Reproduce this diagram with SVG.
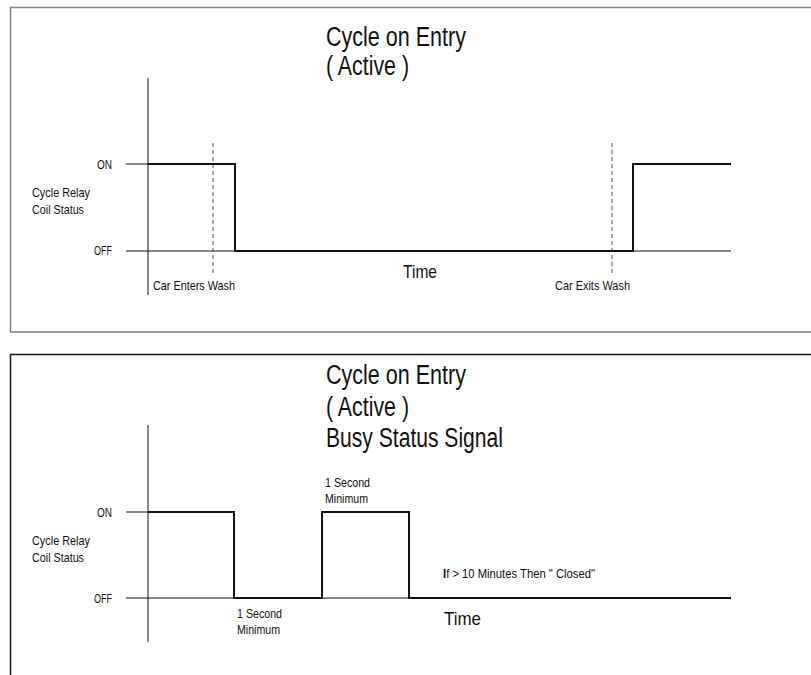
<svg xmlns="http://www.w3.org/2000/svg" width="811" height="675" viewBox="0 0 811 675">
<style>
text{font-family:"Liberation Sans",Arial,sans-serif;fill:#111}
.title{font-size:27px}
.lbl{font-size:13.5px}
.time{font-size:19px}
.axis{stroke:#111;stroke-width:1;fill:none}
.sig{stroke:#111;stroke-width:2;fill:none}
.dash{stroke:#555;stroke-width:1;stroke-dasharray:4 3;fill:none}
</style>
<rect width="811" height="675" fill="#fff"/>
<g id="panel1">
<path d="M10.5,332 V7.5 H812 M10,332 H812" fill="none" stroke="#808080" stroke-width="1.5"/>
<g id="title1">
<text class="title" x="326" y="46" textLength="140" lengthAdjust="spacingAndGlyphs">Cycle on Entry</text>
<text class="title" x="326" y="75" textLength="83" lengthAdjust="spacingAndGlyphs">( Active )</text>
</g>
<g id="labels1">
<text class="lbl" x="97" y="169" textLength="15" lengthAdjust="spacingAndGlyphs">ON</text>
<text class="lbl" x="94" y="255" textLength="18" lengthAdjust="spacingAndGlyphs">OFF</text>
<text class="lbl" x="32" y="197" textLength="58" lengthAdjust="spacingAndGlyphs">Cycle Relay</text>
<text class="lbl" x="32" y="214" textLength="52" lengthAdjust="spacingAndGlyphs">Coil Status</text>
<text class="lbl" x="153" y="290" textLength="82" lengthAdjust="spacingAndGlyphs">Car Enters Wash</text>
<text class="lbl" x="555" y="290" textLength="75" lengthAdjust="spacingAndGlyphs">Car Exits Wash</text>
<text class="time" x="403" y="278" textLength="34" lengthAdjust="spacingAndGlyphs">Time</text>
</g>
<g id="connectors1">
<path class="axis" d="M148,78 V295 M126,164 H148 M126,251 H731"/>
<path class="dash" d="M213,143 V273 M612,143 V273"/>
<path class="sig" d="M148,164 H235 V251 H633 V164 H731"/>
</g>
</g>
<g id="panel2">
<path d="M10.5,676 V354.5 H812" fill="none" stroke="#111" stroke-width="1.5"/>
<g id="title2">
<text class="title" x="326" y="384" textLength="140" lengthAdjust="spacingAndGlyphs">Cycle on Entry</text>
<text class="title" x="326" y="416" textLength="83" lengthAdjust="spacingAndGlyphs">( Active )</text>
<text class="title" x="326" y="447" textLength="177" lengthAdjust="spacingAndGlyphs">Busy Status Signal</text>
</g>
<g id="labels2">
<text class="lbl" x="97" y="517" textLength="15" lengthAdjust="spacingAndGlyphs">ON</text>
<text class="lbl" x="94" y="603" textLength="18" lengthAdjust="spacingAndGlyphs">OFF</text>
<text class="lbl" x="32" y="545" textLength="58" lengthAdjust="spacingAndGlyphs">Cycle Relay</text>
<text class="lbl" x="32" y="562" textLength="52" lengthAdjust="spacingAndGlyphs">Coil Status</text>
<text class="lbl" x="325" y="487" textLength="45" lengthAdjust="spacingAndGlyphs">1 Second</text>
<text class="lbl" x="325" y="503" textLength="43" lengthAdjust="spacingAndGlyphs">Minimum</text>
<text class="lbl" x="237" y="618" textLength="45" lengthAdjust="spacingAndGlyphs">1 Second</text>
<text class="lbl" x="237" y="634" textLength="43" lengthAdjust="spacingAndGlyphs">Minimum</text>
<text class="lbl" x="443" y="578" textLength="152" lengthAdjust="spacingAndGlyphs"><tspan font-weight="bold">I</tspan>f &gt; 10 Minutes Then " Closed"</text>
<text class="time" x="444" y="625" font-size="20" textLength="37" lengthAdjust="spacingAndGlyphs">Time</text>
</g>
<g id="connectors2">
<path class="axis" d="M148,425 V642 M126,512 H148 M126,598 H731"/>
<path class="sig" d="M148,512 H234 V598 H322 V512 H409 V598 H731"/>
</g>
</g>
</svg>
